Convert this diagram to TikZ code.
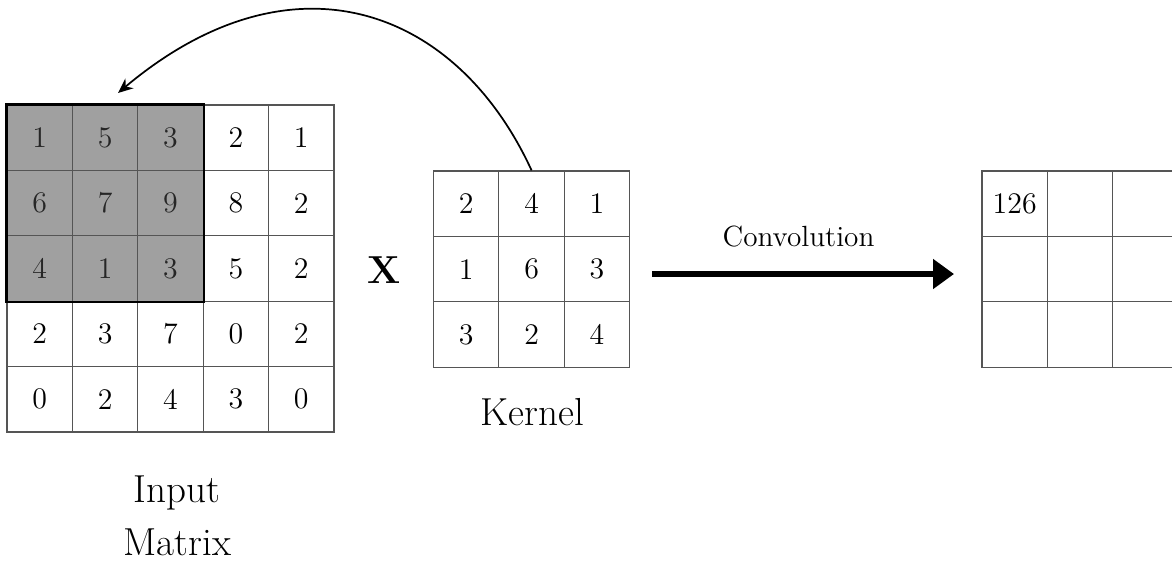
\documentclass[tikz,border=0pt]{standalone}
\usetikzlibrary{arrows.meta}
\definecolor{gridline}{RGB}{85,85,85}
\definecolor{shade}{RGB}{160,160,160}
\begin{document}
\begin{tikzpicture}[x=0.015291cm, y=-0.015291cm,
  cell/.style={draw=gridline, line width=0.5pt, minimum size=1cm,
    inner sep=0pt, font=\fontsize{13}{15}\selectfont},
  hot/.style={cell, fill=shade, text=black!85},
  caption/.style={anchor=base, inner sep=0pt, font=\fontsize{17}{22}\selectfont},
  curvearrow/.style={line width=0.75pt, -{Stealth[length=6.5pt,width=5.5pt]}},
  convarrow/.style={line width=2.6pt, -{Triangle[length=0.32cm,width=0.44cm]}}]
\useasboundingbox (0,0) rectangle (1172,560);
\clip (0,0) rectangle (1172,560);

% input matrix (5x5), the top-left 3x3 window shaded
\foreach \row [count=\i] in {{1,5,3,2,1},{6,7,9,8,2},{4,1,3,5,2},{2,3,7,0,2},{0,2,4,3,0}}{
  \foreach \v [count=\j] in \row {
    \pgfmathtruncatemacro{\inwin}{(\i<4)&&(\j<4)}
    \ifnum\inwin=1
      \node[hot] (in-\i-\j) at ({7+32.7+65.4*(\j-1)},{105+32.7+65.4*(\i-1)}) {\v};
    \else
      \node[cell] (in-\i-\j) at ({7+32.7+65.4*(\j-1)},{105+32.7+65.4*(\i-1)}) {\v};
    \fi
  }
}
\draw[line width=1pt] (in-1-1.north west) rectangle (in-3-3.south east);

% kernel (3x3)
\foreach \row [count=\i] in {{2,4,1},{1,6,3},{3,2,4}}{
  \foreach \v [count=\j] in \row {
    \node[cell] (k-\i-\j) at ({433.5+32.7+65.4*(\j-1)},{171+32.7+65.4*(\i-1)}) {\v};
  }
}

% output feature map (3x3), first entry filled in
\foreach \i in {1,2,3}{
  \foreach \j in {1,2,3}{
    \node[cell] (out-\i-\j) at ({982+32.7+65.4*(\j-1)},{171+32.7+65.4*(\i-1)}) {};
  }
}
\node[font=\fontsize{13}{15}\selectfont] (val) at (out-1-1.center) {126};

% labels
\node[anchor=base, inner sep=0pt, font=\fontsize{17}{22}\bfseries\selectfont] (times) at (384,283.3) {X};
\node[caption] (klabel) at (532.5,425.7) {Kernel};
\node[caption] (inlabel1) at (177,502.7) {Input};
\node[caption] (inlabel2) at (177.5,555.7) {Matrix};
\node[anchor=base, inner sep=0pt, font=\fontsize{12.7}{15}\selectfont] (conv) at (798.5,246.7) {Convolution};

% kernel slides back onto the input window
\coordinate (back) at (118,93);
\draw[curvearrow] (k-1-2.north) .. controls (456.9,7.9) and (292.6,-53.6) .. (back);

% convolution arrow
\coordinate (c0) at (652,274);
\coordinate (c1) at (954,274);
\draw[convarrow] (c0) -- (c1);
\end{tikzpicture}
\end{document}
